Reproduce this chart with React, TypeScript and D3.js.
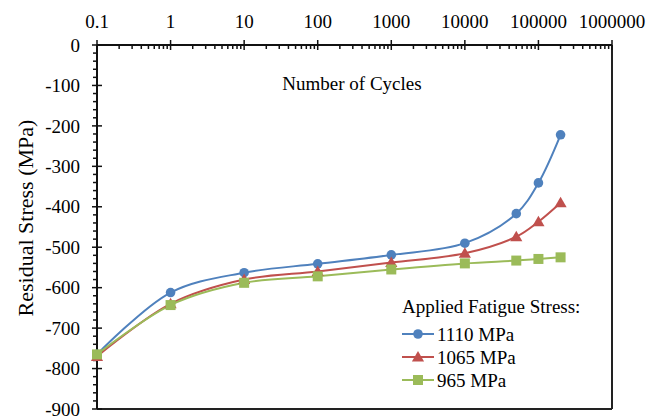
import * as d3 from 'd3';

const cycles = [0.1, 1, 10, 100, 1000, 10000, 50000, 100000, 200000];
const s1110 = [-765, -612, -563, -541, -519, -490, -417, -341, -222];
const s1065 = [-770, -640, -580, -560, -538, -515, -474, -437, -390];
const s965 = [-765, -643, -588, -572, -555, -540, -533, -529, -525];
const xTicks = [0.1, 1, 10, 100, 1000, 10000, 100000, 1000000];
const yTicks = [0, -100, -200, -300, -400, -500, -600, -700, -800, -900];

const series = [
  { name: '1110 MPa', values: s1110, color: '#4F81BD', marker: 'circle' },
  { name: '1065 MPa', values: s1065, color: '#C0504D', marker: 'triangle' },
  { name: '965 MPa', values: s965, color: '#9BBB59', marker: 'square' },
];

const W = 654;
const H = 416;
const left = 97;
const right = 612;
const top = 45;
const bottom = 409;
const font = "'Liberation Serif', 'Times New Roman', serif";

const Marker = ({ type, x, y, color }) => {
  if (type === 'circle') return <circle cx={x} cy={y} r={4.8} fill={color} />;
  if (type === 'square') return <rect x={x - 5} y={y - 5} width={10} height={10} fill={color} />;
  const p = d3.symbol(d3.symbolTriangle, 64)();
  return <path d={p} transform={`translate(${x},${y + 1})`} fill={color} />;
};

const App = () => {
  const x = d3.scaleLog().domain([0.1, 1000000]).range([left, right]);
  const y = d3.scaleLinear().domain([0, -900]).range([top, bottom]);

  // smooth lines like Excel's "smoothed line" option
  const line = d3
    .line<[number, number]>()
    .curve(d3.curveCatmullRom.alpha(0.5))
    .x((d) => x(d[0]))
    .y((d) => y(d[1]));

  // minor ticks on the log axis: 2..9 in each decade
  const minorX = [];
  for (let i = 0; i < xTicks.length - 1; i++) {
    for (let k = 2; k <= 9; k++) minorX.push(xTicks[i] * k);
  }
  const minorY = d3.range(0, -901, -20).filter((v) => v % 100 !== 0);

  return (
    <svg width={W} height={H} style={{ position: 'absolute', left: 0, top: 0, fontFamily: font }}>
      <rect width={W} height={H} fill="#fff" />
      {/* frame */}
      <line x1={right} x2={right} y1={top} y2={bottom} stroke="#222" strokeWidth={2} />
      <line x1={left} x2={right} y1={bottom} y2={bottom} stroke="#222" strokeWidth={2} />

      {/* top x axis */}
      <line x1={left} x2={right} y1={top} y2={top} stroke="#111" strokeWidth={2} />
      {minorX.map((v, i) => (
        <line key={i} x1={x(v)} x2={x(v)} y1={top} y2={top + 4} stroke="#111" strokeWidth={1.5} />
      ))}
      {xTicks.map((v) => (
        <g key={v}>
          <line x1={x(v)} x2={x(v)} y1={top - 5} y2={top + 5} stroke="#111" strokeWidth={1.5} />
          <text x={x(v)} y={top - 17} textAnchor="middle" fontSize={19}>
            {String(v)}
          </text>
        </g>
      ))}

      {/* left y axis */}
      <line x1={left} x2={left} y1={top} y2={bottom} stroke="#111" strokeWidth={2} />
      {minorY.map((v) => (
        <line key={v} x1={left - 4} x2={left} y1={y(v)} y2={y(v)} stroke="#111" strokeWidth={1.5} />
      ))}
      {yTicks.map((v) => (
        <g key={v}>
          <line x1={left - 5} x2={left + 5} y1={y(v)} y2={y(v)} stroke="#111" strokeWidth={1.5} />
          <text x={left - 17} y={y(v)} dy="0.35em" textAnchor="end" fontSize={19}>
            {v === 0 ? '0' : String(v)}
          </text>
        </g>
      ))}

      <text x={352} y={90} textAnchor="middle" fontSize={19}>
        Number of Cycles
      </text>
      <text transform="translate(33,218) rotate(-90)" textAnchor="middle" fontSize={22}>
        Residual Stress (MPa)
      </text>

      {/* series */}
      {series.map((s) => (
        <path
          key={s.name}
          d={line(cycles.map((c, i) => [c, s.values[i]]))}
          fill="none"
          stroke={s.color}
          strokeWidth={2}
        />
      ))}
      {series.map((s) =>
        cycles.map((c, i) => (
          <Marker key={s.name + i} type={s.marker} x={x(c)} y={y(s.values[i])} color={s.color} />
        ))
      )}

      {/* legend */}
      <text x={402} y={313} fontSize={19}>
        Applied Fatigue Stress:
      </text>
      {series.map((s, i) => {
        const ly = 334 + i * 23;
        return (
          <g key={s.name}>
            <line x1={402} x2={434} y1={ly} y2={ly} stroke={s.color} strokeWidth={2} />
            <Marker type={s.marker} x={418} y={ly} color={s.color} />
            <text x={437} y={ly} dy="0.35em" fontSize={19}>
              {s.name}
            </text>
          </g>
        );
      })}
    </svg>
  );
};

export default App;
